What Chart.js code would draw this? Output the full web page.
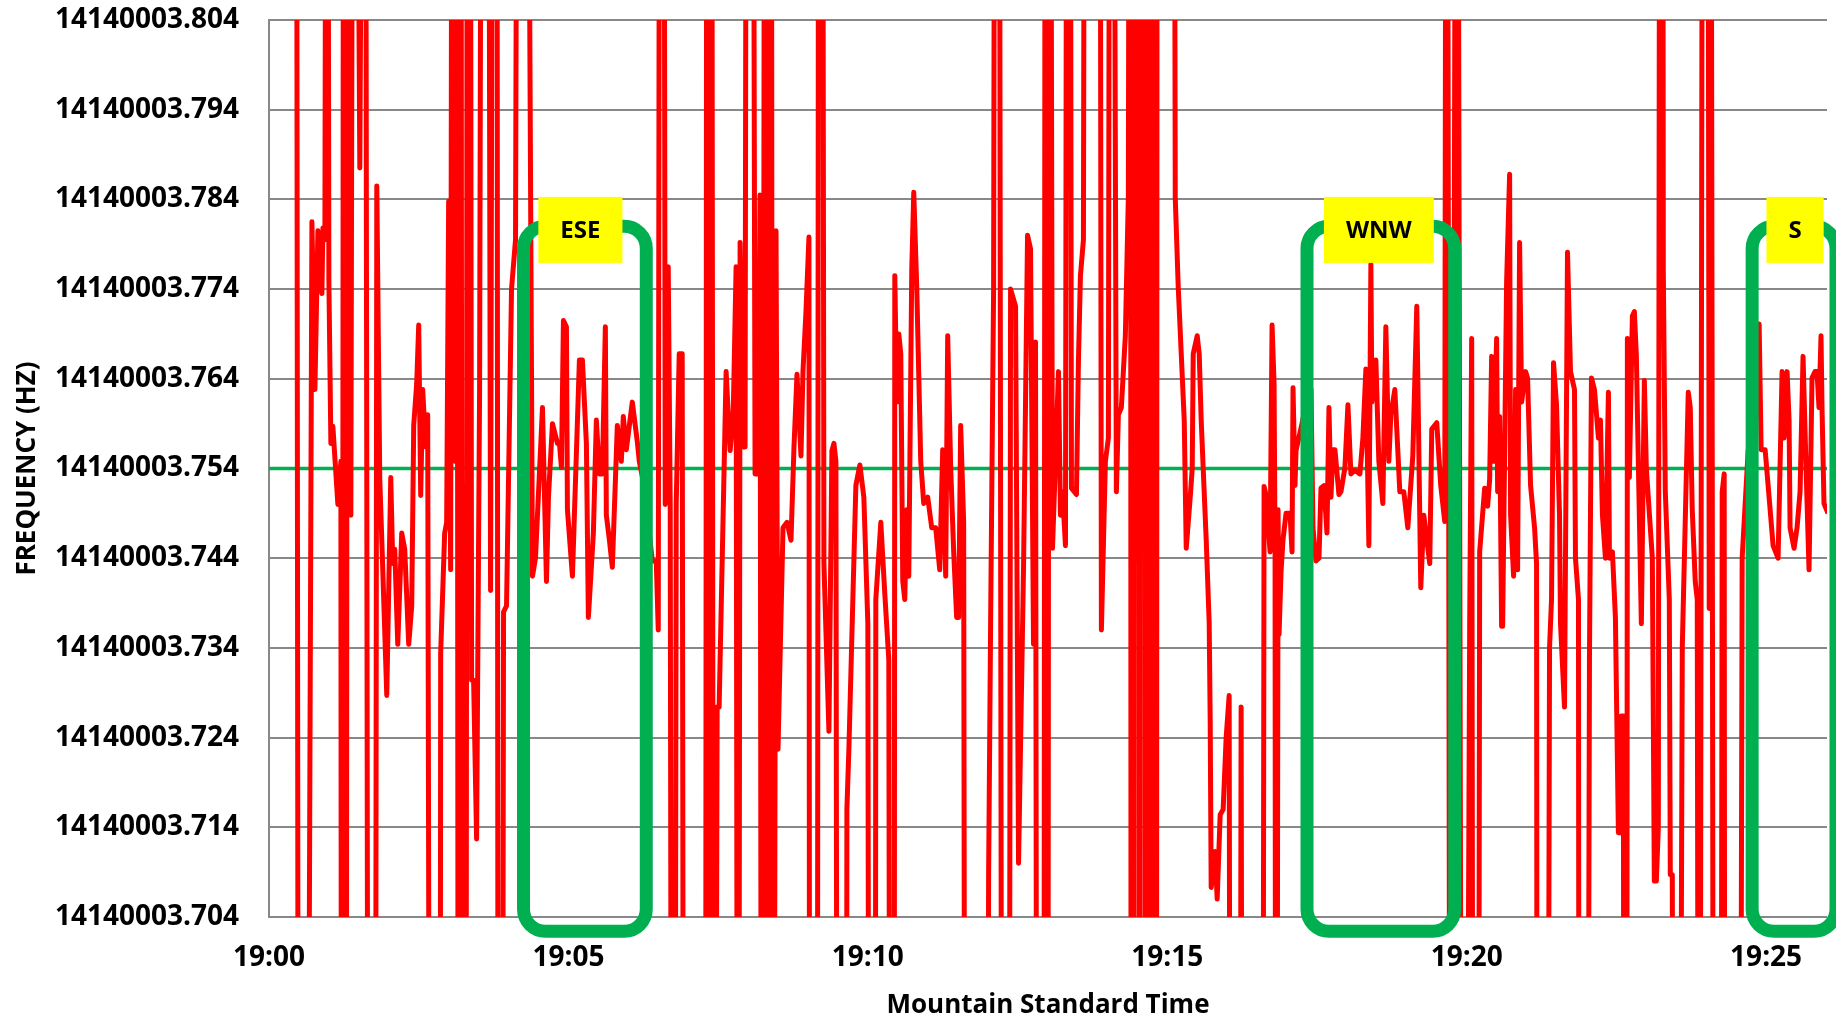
<!DOCTYPE html>
<html>
<head>
<meta charset="utf-8">
<title>Frequency vs Mountain Standard Time</title>
<script src="https://cdn.jsdelivr.net/npm/chart.js@4.4.1/dist/chart.umd.min.js"></script>
<style>
  html, body { margin: 0; padding: 0; background: #ffffff; }
  #wrap { position: relative; width: 1836px; height: 1022px; }
</style>
</head>
<body>
<div id="wrap"><canvas id="freqChart"></canvas></div>
<script>
// Sample times, seconds after 19:00:00 MST
const timeSec = [
  27, 30, 37, 43, 46, 49, 53, 54, 56, 58,
  60, 62, 64, 69, 72, 73, 75, 77, 79, 82,
  85, 91, 96, 100, 106, 108, 111, 114, 118, 122,
  124, 126, 129, 133, 136, 140, 143, 145, 148, 150,
  152, 154, 157, 159, 162, 171, 172, 176, 178, 180,
  182, 184, 186, 188, 190, 192, 194, 197, 199, 201,
  203, 205, 208, 211, 214, 219, 222, 225, 228, 230,
  233, 235, 238, 243, 247, 250, 257, 264, 267, 274,
  278, 280, 284, 289, 291, 293, 295, 298, 299, 304,
  311, 314, 318, 320, 325, 328, 331, 334, 337, 338,
  341, 344, 349, 353, 355, 358, 364, 369, 371, 376,
  384, 388, 390, 392, 395, 397, 400, 402, 404, 406,
  408, 411, 414, 416, 437, 439, 441, 443, 446, 449,
  451, 458, 462, 465, 468, 470, 472, 475, 477, 479,
  484, 487, 490, 492, 494, 497, 500, 503, 505, 508,
  510, 515, 519, 523, 526, 529, 533, 535, 538, 541,
  542, 549, 551, 554, 556, 561, 564, 566, 568, 570,
  578, 579, 581, 588, 592, 596, 600, 602, 607, 608,
  613, 617, 621, 623, 626, 627, 629, 631, 633, 635,
  637, 639, 641, 644, 646, 649, 653, 656, 660, 664,
  668, 672, 675, 678, 680, 683, 686, 689, 691, 693,
  696, 698, 719, 721, 723, 726, 728, 731, 735, 741,
  743, 748, 751, 756, 760, 763, 766, 768, 770, 776,
  778, 780, 782, 785, 791, 793, 795, 798, 800, 802,
  804, 809, 811, 813, 816, 818, 832, 834, 838, 841,
  843, 845, 849, 851, 854, 858, 861, 863, 864, 866,
  867, 871, 872, 873, 877, 878, 879, 880, 882, 883,
  885, 886, 888, 889, 890,
  906, 908, 911, 914, 917, 919, 923, 925, 926, 930,
  932, 934, 936, 939, 942, 943, 944, 948, 950, 953,
  956, 959, 962, 964, 972, 974, 976, 995, 997, 999,
  1003, 1005, 1007, 1008, 1009, 1011, 1012, 1014, 1016, 1019,
  1023, 1025, 1026, 1028, 1029, 1035, 1042, 1044, 1046, 1049,
  1052, 1054, 1057, 1060, 1062, 1064, 1066, 1068, 1072, 1074,
  1078, 1081, 1084, 1088, 1093, 1096, 1099, 1102, 1104, 1105,
  1109, 1112, 1116, 1119, 1122, 1124, 1128, 1133, 1137, 1141,
  1146, 1150, 1154, 1157, 1163, 1165, 1170, 1174, 1178, 1180,
  1184, 1190, 1196, 1198, 1203, 1205, 1207, 1211, 1213, 1218,
  1221, 1223, 1225, 1227, 1230, 1231, 1233, 1235, 1236, 1240,
  1243, 1244, 1247, 1249, 1251, 1253, 1255, 1259, 1261, 1264,
  1268, 1270, 1271, 1280, 1283, 1285, 1287, 1290, 1293, 1294,
  1298, 1301, 1304, 1308, 1309, 1312, 1313, 1320, 1323, 1325,
  1328, 1332, 1334, 1336, 1339, 1342, 1343, 1346, 1349, 1352,
  1354, 1355, 1357, 1358, 1360, 1361, 1363, 1366, 1368, 1370,
  1375, 1378, 1380, 1386, 1388, 1390, 1392, 1394, 1396, 1397,
  1399, 1403, 1404, 1406, 1408, 1412, 1416, 1422, 1424, 1426,
  1429, 1431, 1433, 1435, 1437, 1441, 1443, 1444, 1446, 1448,
  1454, 1456, 1458, 1459, 1473, 1476, 1482, 1489, 1493, 1495,
  1499, 1503, 1507, 1512, 1516, 1518, 1521, 1523, 1524, 1528,
  1531, 1534, 1537, 1540, 1543, 1546, 1549, 1551, 1553, 1555,
  1556, 1558, 1562
];

// Measured frequency (Hz); 14140003.9 / 14140003.6 are readings far off the scale
const freqHz = [
  14140003.9, 14140003.6, 14140003.6, 14140003.7815, 14140003.7628, 14140003.7805, 14140003.7735, 14140003.7808, 14140003.7795, 14140003.9,
  14140003.775, 14140003.7568, 14140003.7587, 14140003.75, 14140003.7548, 14140003.6, 14140003.9, 14140003.6, 14140003.9, 14140003.7488,
  14140003.9, 14140003.7875, 14140003.9, 14140003.6, 14140003.6, 14140003.7855, 14140003.7528, 14140003.7427, 14140003.7287, 14140003.753,
  14140003.7434, 14140003.745, 14140003.7344, 14140003.7468, 14140003.745, 14140003.7344, 14140003.7387, 14140003.7588, 14140003.7635, 14140003.77,
  14140003.751, 14140003.7628, 14140003.7564, 14140003.76, 14140003.6, 14140003.6, 14140003.7334, 14140003.7468, 14140003.748, 14140003.7838,
  14140003.7427, 14140003.9, 14140003.7548, 14140003.9, 14140003.6, 14140003.9, 14140003.6, 14140003.6, 14140003.9, 14140003.9,
  14140003.7304, 14140003.7304, 14140003.7127, 14140003.7628, 14140003.9, 14140003.9, 14140003.7404, 14140003.9, 14140003.9, 14140003.6,
  14140003.6, 14140003.738, 14140003.7387, 14140003.774, 14140003.7795, 14140003.9, 14140003.9, 14140003.742, 14140003.744, 14140003.7608,
  14140003.7414, 14140003.7508, 14140003.759, 14140003.7568, 14140003.7568, 14140003.7541, 14140003.7705, 14140003.7698, 14140003.7494, 14140003.742,
  14140003.7661, 14140003.7661, 14140003.7568, 14140003.7374, 14140003.7468, 14140003.7594, 14140003.7534, 14140003.7534, 14140003.7698, 14140003.7488,
  14140003.7461, 14140003.743, 14140003.7588, 14140003.7548, 14140003.7598, 14140003.7561, 14140003.7614, 14140003.757, 14140003.7548, 14140003.752,
  14140003.7437, 14140003.7437, 14140003.736, 14140003.9, 14140003.9, 14140003.75, 14140003.7765, 14140003.75, 14140003.6, 14140003.6,
  14140003.75, 14140003.7668, 14140003.7668, 14140003.6, 14140003.6, 14140003.9, 14140003.6, 14140003.9, 14140003.6, 14140003.7274,
  14140003.7274, 14140003.7648, 14140003.756, 14140003.7594, 14140003.7765, 14140003.6, 14140003.7792, 14140003.7564, 14140003.7564, 14140003.9,
  14140003.9, 14140003.7534, 14140003.7534, 14140003.7845, 14140003.6, 14140003.9, 14140003.6, 14140003.9, 14140003.6, 14140003.7805,
  14140003.7227, 14140003.7474, 14140003.748, 14140003.746, 14140003.7564, 14140003.7645, 14140003.7554, 14140003.7648, 14140003.7715, 14140003.7798,
  14140003.6, 14140003.6, 14140003.9, 14140003.9, 14140003.7434, 14140003.7247, 14140003.756, 14140003.7568, 14140003.7548, 14140003.6,
  14140003.6, 14140003.716, 14140003.7227, 14140003.7521, 14140003.7544, 14140003.7508, 14140003.7367, 14140003.6, 14140003.6, 14140003.7394,
  14140003.748, 14140003.74, 14140003.7327, 14140003.6, 14140003.6, 14140003.7755, 14140003.7614, 14140003.769, 14140003.7668, 14140003.7414,
  14140003.7394, 14140003.7494, 14140003.742, 14140003.7762, 14140003.7848, 14140003.7742, 14140003.7548, 14140003.7501, 14140003.7508, 14140003.7474,
  14140003.7474, 14140003.7427, 14140003.7561, 14140003.742, 14140003.7688, 14140003.7541, 14140003.7447, 14140003.7374, 14140003.7374, 14140003.7588,
  14140003.748, 14140003.6, 14140003.6, 14140003.7087, 14140003.7367, 14140003.774, 14140003.9, 14140003.9, 14140003.6, 14140003.6,
  14140003.774, 14140003.7721, 14140003.71, 14140003.743, 14140003.78, 14140003.7785, 14140003.7344, 14140003.7681, 14140003.6, 14140003.6,
  14140003.9, 14140003.6, 14140003.9, 14140003.7451, 14140003.7648, 14140003.7488, 14140003.7514, 14140003.7454, 14140003.9, 14140003.9,
  14140003.7518, 14140003.7511, 14140003.766, 14140003.7755, 14140003.7795, 14140003.9, 14140003.9, 14140003.736, 14140003.7548, 14140003.7574,
  14140003.9, 14140003.9, 14140003.7514, 14140003.76, 14140003.7608, 14140003.7688, 14140003.7842, 14140003.9, 14140003.6, 14140003.6,
  14140003.9, 14140003.9, 14140003.6, 14140003.9, 14140003.9, 14140003.6, 14140003.9, 14140003.6, 14140003.9, 14140003.6,
  14140003.9, 14140003.6, 14140003.9, 14140003.6, 14140003.9,
  14140003.9, 14140003.7842, 14140003.7742, 14140003.7668, 14140003.7594, 14140003.7451, 14140003.7508, 14140003.754, 14140003.7668, 14140003.7688,
  14140003.7668, 14140003.7594, 14140003.754, 14140003.7461, 14140003.7368, 14140003.726, 14140003.7073, 14140003.7113, 14140003.706, 14140003.7154,
  14140003.716, 14140003.724, 14140003.7287, 14140003.6, 14140003.6, 14140003.7274, 14140003.6, 14140003.6, 14140003.752, 14140003.751,
  14140003.7447, 14140003.77, 14140003.7635, 14140003.745, 14140003.6, 14140003.7494, 14140003.7355, 14140003.7425, 14140003.7461, 14140003.749,
  14140003.749, 14140003.7447, 14140003.763, 14140003.7521, 14140003.756, 14140003.759, 14140003.7628, 14140003.7628, 14140003.7474, 14140003.7437,
  14140003.744, 14140003.7518, 14140003.7521, 14140003.7468, 14140003.7608, 14140003.7508, 14140003.7561, 14140003.7561, 14140003.7511, 14140003.7514,
  14140003.7541, 14140003.7611, 14140003.7534, 14140003.7538, 14140003.7534, 14140003.7574, 14140003.7651, 14140003.7454, 14140003.7768, 14140003.7614,
  14140003.7661, 14140003.7548, 14140003.7501, 14140003.7698, 14140003.7548, 14140003.76, 14140003.7628, 14140003.7514, 14140003.7514, 14140003.7474,
  14140003.7554, 14140003.7721, 14140003.7407, 14140003.7488, 14140003.7434, 14140003.7584, 14140003.7591, 14140003.7521, 14140003.7481, 14140003.9,
  14140003.6, 14140003.9, 14140003.6, 14140003.6, 14140003.7367, 14140003.7685, 14140003.6, 14140003.6, 14140003.7447, 14140003.7518,
  14140003.7498, 14140003.7528, 14140003.7665, 14140003.7548, 14140003.7685, 14140003.7514, 14140003.7598, 14140003.7364, 14140003.7364, 14140003.7748,
  14140003.7868, 14140003.7488, 14140003.742, 14140003.7628, 14140003.7427, 14140003.7792, 14140003.7614, 14140003.7648, 14140003.7641, 14140003.7521,
  14140003.7474, 14140003.7434, 14140003.6, 14140003.6, 14140003.734, 14140003.7394, 14140003.7658, 14140003.7611, 14140003.7488, 14140003.7367,
  14140003.7274, 14140003.7781, 14140003.7648, 14140003.7628, 14140003.744, 14140003.7394, 14140003.6, 14140003.6, 14140003.7327, 14140003.7641,
  14140003.7628, 14140003.7574, 14140003.7594, 14140003.7488, 14140003.744, 14140003.7625, 14140003.744, 14140003.7447, 14140003.7374, 14140003.7134,
  14140003.7134, 14140003.7264, 14140003.7264, 14140003.6, 14140003.6, 14140003.7685, 14140003.753, 14140003.771, 14140003.7715, 14140003.7665,
  14140003.7367, 14140003.7638, 14140003.754, 14140003.744, 14140003.708, 14140003.708, 14140003.714, 14140003.9, 14140003.9, 14140003.776,
  14140003.7514, 14140003.7394, 14140003.7087, 14140003.7087, 14140003.6, 14140003.6, 14140003.734, 14140003.7625, 14140003.7608, 14140003.7494,
  14140003.7414, 14140003.7394, 14140003.6, 14140003.754, 14140003.9, 14140003.9, 14140003.7384, 14140003.9, 14140003.7562, 14140003.6,
  14140003.6, 14140003.7514, 14140003.7534, 14140003.6, 14140003.6, 14140003.744, 14140003.756, 14140003.759, 14140003.7701, 14140003.7561,
  14140003.7561, 14140003.7508, 14140003.7454, 14140003.744, 14140003.7648, 14140003.7574, 14140003.7648, 14140003.7594, 14140003.7474, 14140003.7451,
  14140003.7474, 14140003.7514, 14140003.7665, 14140003.7541, 14140003.7427, 14140003.7641, 14140003.7648, 14140003.7648, 14140003.7608, 14140003.7688,
  14140003.7608, 14140003.7501, 14140003.749
];

// Green reference level
const refTime = [0, 1561];
const refFreq = [14140003.754, 14140003.754];

// Axes
const yTicks = [14140003.704, 14140003.714, 14140003.724, 14140003.734, 14140003.744, 14140003.754,
                14140003.764, 14140003.774, 14140003.784, 14140003.794, 14140003.804];
const yMin = 14140003.704;
const yMax = 14140003.804;
const xTicks = [0, 300, 600, 900, 1200, 1500];
const xTickLabels = ['19:00', '19:05', '19:10', '19:15', '19:20', '19:25'];
const xMax = 1561;

// Antenna direction windows (seconds after 19:00)
const zoneNames = ['ESE', 'WNW', 'S'];
const zoneStart = [255, 1040, 1486];
const zoneEnd = [378, 1188, 1570];
const zoneLabelAt = [312, 1112, 1529];
const zoneTop = 14140003.781;
const zoneBottom = 14140003.7024;
const zoneLabelFreq = 14140003.7806;

const FONT = 'Open Sans';

// rounded green boxes with yellow tags, drawn over the trace
const zonePlugin = {
  id: 'zones',
  afterDatasetsDraw(chart) {
    const { ctx, scales: { x, y } } = chart;
    ctx.save();
    ctx.strokeStyle = '#00B050';
    ctx.lineWidth = 13;
    zoneNames.forEach((name, i) => {
      const left = x.getPixelForValue(zoneStart[i]);
      const right = x.getPixelForValue(zoneEnd[i]);
      const top = y.getPixelForValue(zoneTop);
      const bottom = y.getPixelForValue(zoneBottom);
      ctx.beginPath();
      ctx.roundRect(left, top, right - left, bottom - top, 22);
      ctx.stroke();
    });

    ctx.font = 'bold 24px "' + FONT + '"';
    ctx.textAlign = 'center';
    ctx.textBaseline = 'middle';
    zoneNames.forEach((name, i) => {
      const cx = x.getPixelForValue(zoneLabelAt[i]);
      const cy = y.getPixelForValue(zoneLabelFreq);
      const w = ctx.measureText(name).width + 44;
      ctx.fillStyle = '#FFFF00';
      ctx.fillRect(cx - w / 2, cy - 33, w, 66);
      ctx.fillStyle = '#000000';
      ctx.fillText(name, cx, cy + 1);
    });
    ctx.restore();
  }
};

new Chart(document.getElementById('freqChart'), {
  type: 'line',
  data: {
    datasets: [
      {
        label: 'Frequency',
        data: timeSec.map((t, i) => ({ x: t, y: freqHz[i] })),
        borderColor: '#FF0000',
        borderWidth: 5,
        borderJoinStyle: 'round',
        pointRadius: 0,
        tension: 0,
        clip: 0,
        order: 1
      },
      {
        label: 'Reference',
        data: refTime.map((t, i) => ({ x: t, y: refFreq[i] })),
        borderColor: '#00B050',
        borderWidth: 3.5,
        pointRadius: 0,
        clip: 0,
        order: 2
      }
    ]
  },
  options: {
    responsive: true,
    maintainAspectRatio: false,
    animation: false,
    layout: { padding: { top: 20, right: 9, left: 0, bottom: 0 } },
    plugins: {
      legend: { display: false },
      tooltip: { enabled: false }
    },
    scales: {
      x: {
        type: 'linear',
        min: 0,
        max: xMax,
        afterBuildTicks: scale => { scale.ticks = xTicks.map(v => ({ value: v })); },
        afterFit: scale => { scale.height = 105; },
        grid: { display: false, drawTicks: false },
        border: { display: false },
        ticks: {
          autoSkip: false,
          maxRotation: 0,
          padding: 24,
          color: '#000000',
          font: { family: FONT, size: 28, weight: 'bold' },
          callback: (value, index) => xTickLabels[index]
        },
        title: {
          display: true,
          text: 'Mountain Standard Time',
          color: '#000000',
          font: { family: FONT, size: 26, weight: 'bold' },
          padding: { top: 0, bottom: 1 }
        }
      },
      y: {
        type: 'linear',
        min: yMin,
        max: yMax,
        afterBuildTicks: scale => { scale.ticks = yTicks.map(v => ({ value: v })); },
        afterFit: scale => {
          scale.width = 269;
          // keep the label overhang from pushing the plot down
          scale.paddingTop = 0;
          scale.paddingBottom = 0;
        },
        grid: { color: '#888888', lineWidth: 2, drawTicks: false },
        border: { display: true, color: '#888888', width: 2 },
        ticks: {
          padding: 30,
          color: '#000000',
          font: { family: FONT, size: 28, weight: 'bold' },
          callback: value => value.toFixed(3)
        },
        title: {
          display: true,
          text: 'FREQUENCY (HZ)',
          color: '#000000',
          font: { family: FONT, size: 26, weight: 'bold' },
          padding: { top: 12, bottom: 0 }
        }
      }
    }
  },
  plugins: [zonePlugin]
});
</script>
</body>
</html>
